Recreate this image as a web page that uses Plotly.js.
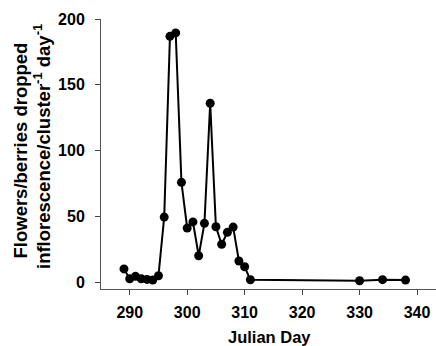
<!DOCTYPE html>
<html>
<head>
<meta charset="utf-8">
<script src="https://cdn.plot.ly/plotly-3.0.1.min.js"></script>
<style>html,body{margin:0;padding:0;background:#fff;}#chart{width:436px;height:346px;}</style>
</head>
<body>
<div id="chart"></div>
<script>
const julianDay = [289,290,291,292,293,294,295,296,297,298,299,300,301,302,303,304,305,306,307,308,309,310,311,330,334,338];
const dropped   = [10,2.5,4.3,2.5,2,1.5,4.8,49.4,186.8,189.4,75.8,41,45.7,20,44.6,135.9,42,28.7,37.8,41.8,16,11.6,1.7,1,1.8,1.5];
const xTicks = [290,300,310,320,330,340];
const yTicks = [0,50,100,150,200];
const xTitle = "Julian Day";
const yTitleLine1 = "Flowers/berries dropped";
const yTitleLine2 = "inflorescence/cluster<sup>-1</sup> day<sup>-1</sup>";

const fam = "Liberation Sans";
const bold = s => "<b>" + s + "</b>";
Plotly.newPlot("chart", [{
  x: julianDay, y: dropped, type: "scatter", mode: "lines+markers",
  line: {color: "#000", width: 2},
  marker: {color: "#000", size: 9}
}], {
  width: 436, height: 346,
  margin: {l: 101, r: 0, t: 19, b: 57},
  paper_bgcolor: "#fff", plot_bgcolor: "#fff",
  showlegend: false,
  font: {family: fam, size: 16, color: "#000"},
  xaxis: {
    range: [285, 343.3], tickvals: xTicks, ticktext: xTicks.map(v => bold(v)),
    ticks: "outside", ticklen: 5, tickcolor: "#444", ticklabelstandoff: 4,
    showline: true, linecolor: "#555", linewidth: 1, showgrid: false, zeroline: false,
    tickfont: {family: fam, size: 16, color: "#000"}
  },
  yaxis: {
    range: [-5.3, 200], tickvals: yTicks, ticktext: yTicks.map(v => bold(v)),
    ticks: "outside", ticklen: 5, tickcolor: "#444", ticklabelstandoff: 7,
    showline: true, linecolor: "#555", linewidth: 1, showgrid: false, zeroline: false,
    tickfont: {family: fam, size: 16, color: "#000"}
  },
  annotations: [
    {text: bold(xTitle), xref: "paper", yref: "paper", x: 0.504, y: (289 - 336.5) / 270,
     xanchor: "center", yanchor: "middle", showarrow: false,
     font: {family: fam, size: 16.5, color: "#000"}},
    {text: bold(yTitleLine1), xref: "paper", yref: "paper", x: (19.5 - 101) / 335, y: (289 - 151) / 270,
     xanchor: "center", yanchor: "middle", textangle: -90, showarrow: false,
     font: {family: fam, size: 18.5, color: "#000"}},
    {text: bold(yTitleLine2), xref: "paper", yref: "paper", x: (42 - 101) / 335, y: (289 - 147) / 270,
     xanchor: "center", yanchor: "middle", textangle: -90, showarrow: false,
     font: {family: fam, size: 18.5, color: "#000"}}
  ]
}, {displayModeBar: false, staticPlot: true});
</script>
</body>
</html>
